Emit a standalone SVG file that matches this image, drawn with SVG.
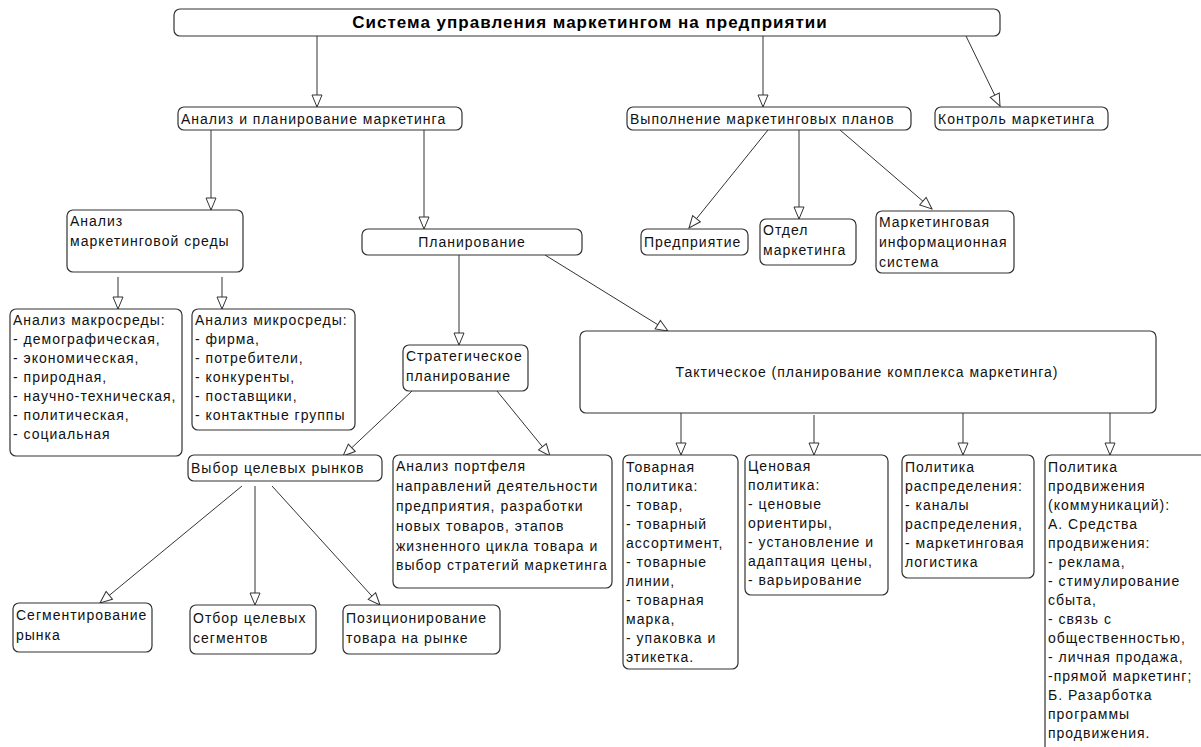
<svg xmlns="http://www.w3.org/2000/svg" width="1201" height="747" viewBox="0 0 1201 747">
<style>
.b{fill:#fff;stroke:#333;stroke-width:1.2}
.t{font-family:"Liberation Sans",Arial,sans-serif;font-size:14px;letter-spacing:1px;fill:#111}
.h{font-family:"Liberation Sans",Arial,sans-serif;font-size:17px;font-weight:bold;letter-spacing:1px;fill:#000}
.c line{stroke:#333;stroke-width:1;marker-end:url(#ar)}
</style>
<defs>
<marker id="ar" markerUnits="userSpaceOnUse" markerWidth="14" markerHeight="12" refX="13" refY="6" orient="auto">
<path d="M1,1 L13,6 L1,11 z" fill="#fff" stroke="#333" stroke-width="1"/>
</marker>
</defs>
<rect width="1201" height="747" fill="#fff"/>
<g class="c" id="connectors">
<line x1="317" y1="36" x2="317" y2="107"/>
<line x1="763" y1="36" x2="763" y2="107"/>
<line x1="966" y1="36" x2="1000" y2="106"/>
<line x1="211" y1="130" x2="211" y2="210"/>
<line x1="424" y1="130" x2="424" y2="229"/>
<line x1="768" y1="130" x2="689" y2="228"/>
<line x1="799" y1="130" x2="799" y2="219"/>
<line x1="840" y1="130" x2="932" y2="209"/>
<line x1="118" y1="277" x2="118" y2="309"/>
<line x1="222" y1="277" x2="222" y2="309"/>
<line x1="459" y1="255" x2="459" y2="345"/>
<line x1="545" y1="255" x2="668" y2="331"/>
<line x1="412" y1="391" x2="343" y2="456"/>
<line x1="497" y1="391" x2="550" y2="456"/>
<line x1="242" y1="486" x2="100" y2="603"/>
<line x1="255" y1="486" x2="255" y2="605"/>
<line x1="272" y1="486" x2="380" y2="605"/>
<line x1="681" y1="412" x2="681" y2="455"/>
<line x1="814" y1="415" x2="814" y2="455"/>
<line x1="963" y1="412" x2="963" y2="455"/>
<line x1="1110" y1="412" x2="1110" y2="455"/>
</g>
<g id="n-title"><rect class="b" x="174" y="9" width="826" height="27" rx="6"/><text class="h" x="590" y="28" text-anchor="middle">Система управления маркетингом на предприятии</text></g>
<g id="n-analiz-plan"><rect class="b" x="178" y="107" width="284" height="23" rx="6"/><text class="t" x="181" y="124">Анализ и планирование маркетинга</text></g>
<g id="n-vypoln"><rect class="b" x="627" y="107" width="284" height="23" rx="6"/><text class="t" x="630" y="124">Выполнение маркетинговых планов</text></g>
<g id="n-kontrol"><rect class="b" x="935" y="107" width="173" height="23" rx="6"/><text class="t" x="938" y="124">Контроль маркетинга</text></g>
<g id="n-sreda"><rect class="b" x="67" y="210" width="176" height="62" rx="6"/><text class="t" x="70" y="226">Анализ</text><text class="t" x="70" y="246">маркетинговой среды</text></g>
<g id="n-plan"><rect class="b" x="362" y="229" width="220" height="26" rx="6"/><text class="t" x="472" y="247" text-anchor="middle">Планирование</text></g>
<g id="n-predpr"><rect class="b" x="641" y="229" width="107" height="26" rx="6"/><text class="t" x="644" y="247">Предприятие</text></g>
<g id="n-otdel"><rect class="b" x="760" y="219" width="96" height="46" rx="6"/><text class="t" x="763" y="235">Отдел</text><text class="t" x="763" y="255">маркетинга</text></g>
<g id="n-mis"><rect class="b" x="876" y="211" width="138" height="62" rx="6"/><text class="t" x="879" y="227">Маркетинговая</text><text class="t" x="879" y="247">информационная</text><text class="t" x="879" y="267"> система</text></g>
<g id="n-makro"><rect class="b" x="10" y="309" width="172" height="147" rx="6"/>
<text class="t" x="13" y="325">Анализ макросреды:</text><text class="t" x="13" y="344">- демографическая,</text><text class="t" x="13" y="363">- экономическая,</text><text class="t" x="13" y="382">- природная,</text><text class="t" x="13" y="401">- научно-техническая,</text><text class="t" x="13" y="420">- политическая,</text><text class="t" x="13" y="439">- социальная</text></g>
<g id="n-mikro"><rect class="b" x="192" y="309" width="163" height="121" rx="6"/>
<text class="t" x="195" y="325">Анализ микросреды:</text><text class="t" x="195" y="344">- фирма,</text><text class="t" x="195" y="363">- потребители,</text><text class="t" x="195" y="382">- конкуренты,</text><text class="t" x="195" y="401">- поставщики,</text><text class="t" x="195" y="420">- контактные группы</text></g>
<g id="n-strat"><rect class="b" x="403" y="345" width="125" height="46" rx="6"/><text class="t" x="406" y="361">Стратегическое</text><text class="t" x="406" y="381">планирование</text></g>
<g id="n-takt"><rect class="b" x="580" y="331" width="576" height="82" rx="6"/><text class="t" x="867" y="377" text-anchor="middle">Тактическое (планирование комплекса маркетинга)</text></g>
<g id="n-vybor"><rect class="b" x="188" y="455" width="194" height="26" rx="6"/><text class="t" x="191" y="473">Выбор целевых рынков</text></g>
<g id="n-portf"><rect class="b" x="393" y="455" width="219" height="133" rx="6"/>
<text class="t" x="396" y="471">Анализ портфеля</text><text class="t" x="396" y="491">направлений деятельности</text><text class="t" x="396" y="511">предприятия, разработки</text><text class="t" x="396" y="531">новых товаров, этапов</text><text class="t" x="396" y="551">жизненного цикла товара и</text><text class="t" x="396" y="570">выбор стратегий маркетинга</text></g>
<g id="n-segm"><rect class="b" x="13" y="603" width="139" height="49" rx="6"/><text class="t" x="16" y="620">Сегментирование</text><text class="t" x="16" y="640"> рынка</text></g>
<g id="n-otbor"><rect class="b" x="190" y="605" width="126" height="49" rx="6"/><text class="t" x="193" y="623">Отбор целевых</text><text class="t" x="193" y="643">сегментов</text></g>
<g id="n-pozic"><rect class="b" x="343" y="605" width="157" height="49" rx="6"/><text class="t" x="346" y="623">Позиционирование</text><text class="t" x="346" y="643">товара на рынке</text></g>
<g id="n-tovar"><rect class="b" x="623" y="455" width="115" height="214" rx="6"/>
<text class="t" x="626" y="472">Товарная</text><text class="t" x="626" y="491">политика:</text><text class="t" x="626" y="510">- товар,</text><text class="t" x="626" y="529">- товарный</text><text class="t" x="626" y="548">ассортимент,</text><text class="t" x="626" y="567">- товарные</text><text class="t" x="626" y="586">линии,</text><text class="t" x="626" y="605">- товарная</text><text class="t" x="626" y="624">марка,</text><text class="t" x="626" y="643">- упаковка и</text><text class="t" x="626" y="662">этикетка.</text></g>
<g id="n-cena"><rect class="b" x="745" y="455" width="143" height="140" rx="6"/>
<text class="t" x="748" y="471">Ценовая</text><text class="t" x="748" y="490">политика:</text><text class="t" x="748" y="509">- ценовые</text><text class="t" x="748" y="528">ориентиры,</text><text class="t" x="748" y="547">- установление и</text><text class="t" x="748" y="566">адаптация цены,</text><text class="t" x="748" y="585">- варьирование</text></g>
<g id="n-raspr"><rect class="b" x="902" y="455" width="132" height="123" rx="6"/>
<text class="t" x="905" y="472">Политика</text><text class="t" x="905" y="491">распределения:</text><text class="t" x="905" y="510">- каналы</text><text class="t" x="905" y="529">распределения,</text><text class="t" x="905" y="548">- маркетинговая</text><text class="t" x="905" y="567">логистика</text></g>
<g id="n-prodv"><rect class="b" x="1045" y="455" width="170" height="310" rx="6"/>
<text class="t" x="1048" y="472">Политика</text><text class="t" x="1048" y="491">продвижения</text><text class="t" x="1048" y="510">(коммуникаций):</text><text class="t" x="1048" y="529">А. Средства</text><text class="t" x="1048" y="548">продвижения:</text><text class="t" x="1048" y="567">- реклама,</text><text class="t" x="1048" y="586">- стимулирование</text><text class="t" x="1048" y="605">сбыта,</text><text class="t" x="1048" y="624">- связь с</text><text class="t" x="1048" y="643">общественностью,</text><text class="t" x="1048" y="662">- личная продажа,</text><text class="t" x="1048" y="681">-прямой маркетинг;</text><text class="t" x="1048" y="700">Б. Разарботка</text><text class="t" x="1048" y="719">программы</text><text class="t" x="1048" y="738">продвижения.</text></g>
</svg>
